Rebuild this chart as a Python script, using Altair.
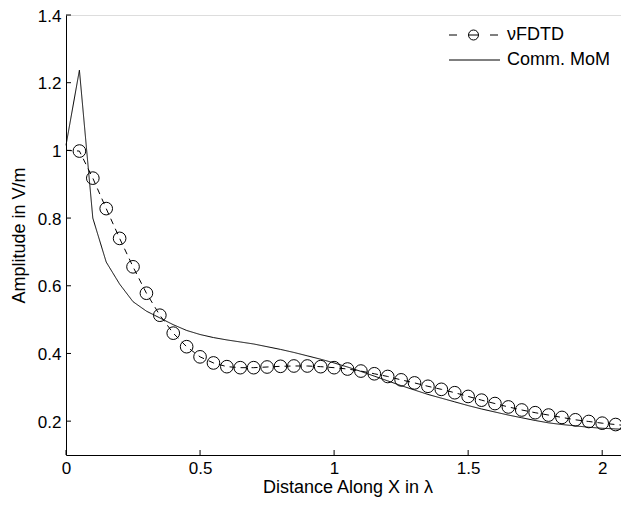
import altair as alt
import pandas as pd

# ---- data ----
x_pos = [0.0, 0.05, 0.1, 0.15, 0.2, 0.25, 0.3, 0.35, 0.4, 0.45, 0.5, 0.55, 0.6, 0.65,
         0.7, 0.75, 0.8, 0.85, 0.9, 0.95, 1.0, 1.05, 1.1, 1.15, 1.2, 1.25, 1.3, 1.35,
         1.4, 1.45, 1.5, 1.55, 1.6, 1.65, 1.7, 1.75, 1.8, 1.85, 1.9, 1.95, 2.0, 2.05, 2.1]

fdtd_y = [1.0, 0.998, 0.918, 0.828, 0.74, 0.656, 0.578, 0.513, 0.46, 0.42, 0.39, 0.372,
          0.361, 0.358, 0.358, 0.36, 0.362, 0.363, 0.363, 0.361, 0.358, 0.354, 0.348,
          0.34, 0.332, 0.322, 0.313, 0.303, 0.294, 0.284, 0.273, 0.262, 0.252, 0.242,
          0.233, 0.225, 0.218, 0.211, 0.204, 0.199, 0.194, 0.19, 0.186]

mom_y = [1.015, 1.237, 0.80, 0.67, 0.605, 0.553, 0.525, 0.505, 0.485, 0.468, 0.456, 0.447,
         0.44, 0.434, 0.428, 0.42, 0.412, 0.403, 0.393, 0.383, 0.372, 0.36, 0.347, 0.333,
         0.319, 0.305, 0.292, 0.279, 0.268, 0.257, 0.246, 0.236, 0.227, 0.218, 0.21,
         0.202, 0.195, 0.19, 0.186, 0.182, 0.179, 0.177, 0.175]

series_names = ["\u03bdFDTD", "Comm. MoM"]
x_ticks = [0, 0.5, 1, 1.5, 2]
y_ticks = [0.2, 0.4, 0.6, 0.8, 1.0, 1.2, 1.4]

df = pd.DataFrame(
    {"x": x_pos + x_pos,
     "y": fdtd_y + mom_y,
     "series": [series_names[0]] * len(x_pos) + [series_names[1]] * len(x_pos)}
)
xt_df = pd.DataFrame({"x": x_ticks})
yt_df = pd.DataFrame({"y": y_ticks})
one = pd.DataFrame({"k": [0]})

W, H = 563, 440
FONT = "Liberation Sans"

x_scale = alt.Scale(domain=[0, 2.1], nice=False, zero=False)
y_scale = alt.Scale(domain=[0.1, 1.4], nice=False, zero=False)

x_axis = alt.Axis(values=x_ticks, format="~g", title="Distance Along X in \u03bb",
                  ticks=False, tickSize=0, grid=False, labelPadding=5, titlePadding=2,
                  domainColor="black", labelFontSize=17, titleFontSize=18,
                  labelFont=FONT, titleFont=FONT, titleFontWeight="normal",
                  labelColor="black", titleColor="black", labelFlush=False)
y_axis = alt.Axis(values=y_ticks, format="~g", title="Amplitude in V/m",
                  ticks=False, tickSize=0, grid=False, labelPadding=5, titlePadding=9,
                  labelOffset=1,
                  domainColor="black", labelFontSize=17, titleFontSize=18,
                  labelFont=FONT, titleFont=FONT, titleFontWeight="normal",
                  labelColor="black", titleColor="black", labelFlush=False)

base = alt.Chart(df)

lines = base.mark_line(color="black", strokeWidth=1).encode(
    x=alt.X("x:Q", scale=x_scale, axis=x_axis),
    y=alt.Y("y:Q", scale=y_scale, axis=y_axis),
    strokeDash=alt.StrokeDash("series:N",
                              scale=alt.Scale(domain=series_names, range=[[6, 5], [1, 0]]),
                              legend=None),
)

points = base.transform_filter(
    (alt.datum.series == series_names[0]) & (alt.datum.x > 0.01)
).mark_point(shape="circle", size=160, filled=False, color="black",
             strokeWidth=1, opacity=1).encode(
    x=alt.X("x:Q", scale=x_scale),
    y=alt.Y("y:Q", scale=y_scale),
)

# ---- legend (drawn in the top-right corner of the plot area) ----
LX0, LX1, LTX = 383, 434, 441      # symbol start, symbol end, label start (px)
LY = [20, 45]                      # row centres (px)
CX = (LX0 + LX1) / 2 - 1

def seg(x0, x1, y):
    return alt.Chart(one).mark_rule(color="black", strokeWidth=1).encode(
        x=alt.value(x0), x2=alt.value(x1), y=alt.value(y))

leg_fdtd = [
    seg(LX0, LX0 + 8, LY[0]),
    seg(CX - 5, CX + 5, LY[0]),
    seg(LX1 - 10, LX1 - 2, LY[0]),
    alt.Chart(one).mark_point(shape="circle", size=100, filled=False, color="black",
                              strokeWidth=1, opacity=1).encode(
        x=alt.value(CX), y=alt.value(LY[0])),
]
leg_mom = [seg(LX0, LX1, LY[1])]
leg_text = [
    alt.Chart(one).mark_text(align="left", baseline="middle", font=FONT, fontSize=18,
                             color="black").encode(
        x=alt.value(LTX), y=alt.value(LY[i]), text=alt.value(series_names[i]))
    for i in range(2)
]

x_tick_marks = alt.Chart(xt_df).mark_rule(color="black", strokeWidth=1).encode(
    x=alt.X("x:Q", scale=x_scale),
    y=alt.value(H),
    y2=alt.value(H - 5),
)
y_tick_marks = alt.Chart(yt_df).mark_rule(color="black", strokeWidth=1).encode(
    y=alt.Y("y:Q", scale=y_scale),
    x=alt.value(0),
    x2=alt.value(5),
)

chart = alt.layer(lines, points, x_tick_marks, y_tick_marks,
                  *leg_fdtd, *leg_mom, *leg_text).properties(
    width=W, height=H,
    autosize=alt.AutoSizeParams(type="none"),
    padding={"left": 58, "top": 7, "right": -8, "bottom": 43},
).configure_view(stroke=None).configure(background="white")

chart.save("out.html", embed_options={"renderer": "svg", "actions": False})
